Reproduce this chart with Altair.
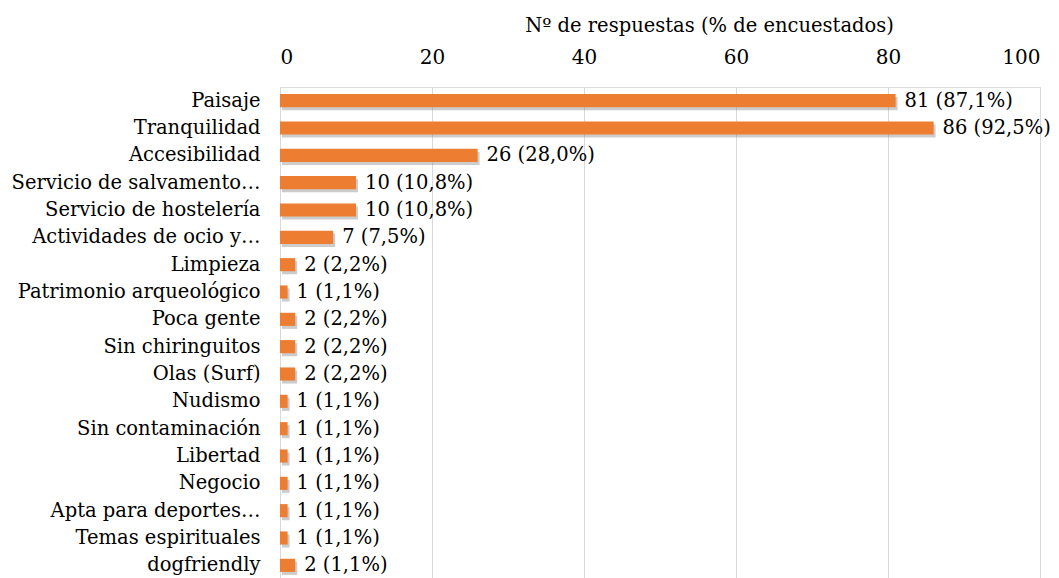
import altair as alt
import pandas as pd

categories = [
    "Paisaje", "Tranquilidad", "Accesibilidad", "Servicio de salvamento…",
    "Servicio de hostelería", "Actividades de ocio y…", "Limpieza",
    "Patrimonio arqueológico", "Poca gente", "Sin chiringuitos", "Olas (Surf)",
    "Nudismo ", "Sin contaminación", "Libertad", "Negocio", "Apta para deportes…",
    "Temas espirituales", "dogfriendly ",
]
counts = [81, 86, 26, 10, 10, 7, 2, 1, 2, 2, 2, 1, 1, 1, 1, 1, 1, 2]
percents = ["87,1%", "92,5%", "28,0%", "10,8%", "10,8%", "7,5%", "2,2%", "1,1%",
            "2,2%", "2,2%", "2,2%", "1,1%", "1,1%", "1,1%", "1,1%", "1,1%", "1,1%", "1,1%"]
x_ticks = [0, 20, 40, 60, 80, 100]

df = pd.DataFrame({
    "cat": categories,
    "n": counts,
    "label": [f"{c} ({p})" for c, p in zip(counts, percents)],
})

FONT = "DejaVu Serif"

y_enc = alt.Y("cat:N", sort=categories,
              scale=alt.Scale(paddingInner=0.52, paddingOuter=0.26),
              axis=alt.Axis(title=None, ticks=False, domain=True, domainColor="#d9d9d9",
                            labelFont=FONT, labelFontSize=19.5, labelColor="#000000",
                            labelPadding=20, labelLimit=400))
x_enc = alt.X("n:Q", scale=alt.Scale(domain=[0, 100], nice=False),
              axis=alt.Axis(orient="top", values=x_ticks, title="Nº de respuestas (% de encuestados)",
                            titleFont=FONT, titleFontSize=19.5, titleFontWeight="normal",
                            titleColor="#000000", titlePadding=12, titleX=429,
                            labelFont=FONT, labelFontSize=20, labelColor="#000000",
                            labelPadding=20, ticks=False, domain=False,
                            grid=True, gridColor="#d9d9d9", format="d"))

base = alt.Chart(df)
shadow = base.mark_bar(color="#7f7f7f", opacity=0.4, xOffset=2, yOffset=3).encode(x=x_enc, y=y_enc)
bars = base.mark_bar(color="#ED7D31").encode(x=x_enc, y=y_enc)
texts = base.mark_text(align="left", baseline="middle", dx=9, font=FONT, fontSize=19.5,
                       color="#000000").encode(x="n:Q", y=alt.Y("cat:N", sort=categories), text="label:N")

chart = alt.layer(shadow, bars, texts).properties(
    width=760, height=492,
    autosize=alt.AutoSizeParams(type="none"),
    padding={"left": 272, "top": 79, "right": 10, "bottom": 0},
).configure_view(stroke=None).configure(background="#ffffff", font=FONT)

chart.save("out.html", embed_options={"renderer": "svg", "actions": False})
